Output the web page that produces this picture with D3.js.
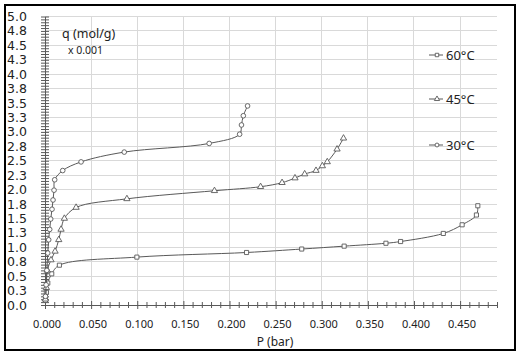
<!DOCTYPE html>
<html>
<head>
<meta charset="utf-8">
<script src="https://cdn.jsdelivr.net/npm/d3@7"></script>
<style>
  body { margin: 0; background: #fff; }
  svg { display: block; }
</style>
</head>
<body>
<svg width="517" height="354"></svg>
<script>
const width = 517;
const height = 354;

// P (bar) and q (mol/g x 0.001)
const p30 = [0.0005, 0.0012, 0.002, 0.003, 0.004, 0.0051, 0.0062, 0.0076, 0.0087, 0.0098, 0.0105, 0.0192, 0.0391, 0.0859, 0.178, 0.211, 0.213, 0.215, 0.2196];
const q30 = [0.15, 0.35, 0.6, 0.9, 1.13, 1.31, 1.49, 1.66, 1.82, 1.99, 2.17, 2.33, 2.48, 2.65, 2.80, 2.96, 3.12, 3.28, 3.45];
const p45 = [0.0005, 0.0015, 0.0025, 0.0065, 0.0109, 0.0149, 0.0174, 0.021, 0.0337, 0.0888, 0.1837, 0.2337, 0.257, 0.271, 0.2815, 0.2938, 0.3007, 0.306, 0.3166, 0.3236];
const q45 = [0.1, 0.3, 0.6, 0.78, 0.93, 1.13, 1.31, 1.50, 1.69, 1.84, 1.98, 2.05, 2.12, 2.20, 2.27, 2.33, 2.41, 2.48, 2.70, 2.89];
const p60 = [0.0005, 0.0015, 0.003, 0.0073, 0.0156, 0.0996, 0.2185, 0.2783, 0.3243, 0.3696, 0.3855, 0.4318, 0.4522, 0.4677, 0.4692];
const q60 = [0.08, 0.22, 0.38, 0.54, 0.69, 0.83, 0.91, 0.97, 1.02, 1.07, 1.10, 1.24, 1.39, 1.56, 1.72];

const seriesNames = ["60°C", "45°C", "30°C"];
const seriesSymbols = [d3.symbolSquare, d3.symbolTriangle, d3.symbolCircle];
const legendY = [55, 99, 145];

const xTicks = d3.range(0, 0.451, 0.05);
const yTicks = d3.range(0, 5.01, 0.25);

const series = [
  { name: seriesNames[0], pts: p60.map((p, i) => [p, q60[i]]) },
  { name: seriesNames[1], pts: p45.map((p, i) => [p, q45[i]]) },
  { name: seriesNames[2], pts: p30.map((p, i) => [p, q30[i]]) }
];

const x = d3.scaleLinear().domain([0, 0.49]).range([45, 497]);
const y = d3.scaleLinear().domain([0, 5]).range([305, 16.5]);

const svg = d3.select("svg");
const ink = "#595959";

svg.append("rect")
    .attr("x", 5).attr("y", 5)
    .attr("width", 510).attr("height", 345)
    .attr("fill", "#fff")
    .attr("stroke", "#000")
    .attr("stroke-width", 2);

const grid = svg.append("g")
    .attr("stroke", "#d9d9d9")
    .attr("stroke-width", 1)
    .attr("shape-rendering", "crispEdges");

grid.selectAll(".h")
  .data(yTicks.slice(1))
  .join("line")
    .attr("x1", x(0)).attr("x2", x(0.49))
    .attr("y1", d => y(d)).attr("y2", d => y(d));

grid.selectAll(".v")
  .data(xTicks.slice(1))
  .join("line")
    .attr("x1", d => x(d)).attr("x2", d => x(d))
    .attr("y1", y(5)).attr("y2", y(0));

const yAxis = svg.append("g")
    .attr("transform", `translate(${x(0)},0)`)
    .call(d3.axisLeft(y).tickValues(d3.range(0, 5.001, 0.05)).tickSize(0).tickFormat(""))
    .call(g => g.select(".domain").attr("stroke", ink));
yAxis.selectAll(".tick line")
    .attr("stroke", ink)
    .attr("x1", -4).attr("x2", 4);

const xAxis = svg.append("g")
    .attr("transform", `translate(0,${y(0)})`)
    .call(d3.axisBottom(x).tickValues(d3.range(0, 0.4901, 0.01)).tickSize(0).tickFormat(""))
    .call(g => g.select(".domain").attr("stroke", ink));
xAxis.selectAll(".tick line")
    .attr("stroke", ink)
    .attr("y1", (d, i) => i % 5 === 0 ? -4 : -3)
    .attr("y2", (d, i) => i % 5 === 0 ? 4 : 3);

svg.append("g")
    .attr("font-family", "DejaVu Sans")
    .attr("font-size", 12.5)
    .attr("fill", "#222")
  .selectAll("text")
  .data(yTicks)
  .join("text")
    .attr("x", 7)
    .attr("y", d => y(d))
    .attr("dy", "0.36em")
    .text(d => d3.format(".1f")(Math.round(d * 10 + 1e-9) / 10));

svg.append("g")
    .attr("font-family", "Noto Sans")
    .attr("font-size", 11)
    .attr("fill", "#222")
    .attr("text-anchor", "middle")
  .selectAll("text")
  .data(xTicks)
  .join("text")
    .attr("x", d => x(d) + 2)
    .attr("y", 324)
    .attr("dy", "0.36em")
    .text(d => d3.format(".3f")(d));

svg.append("text")
    .attr("x", 275).attr("y", 342).attr("dy", "0.36em")
    .attr("text-anchor", "middle")
    .attr("font-family", "Noto Sans").attr("font-size", 12)
    .attr("fill", "#222")
    .text("P (bar)");

svg.append("text")
    .attr("x", 62).attr("y", 33).attr("dy", "0.36em")
    .attr("font-family", "Noto Sans").attr("font-size", 12.5)
    .attr("fill", "#222")
    .text("q (mol/g)");

svg.append("text")
    .attr("x", 68).attr("y", 50).attr("dy", "0.36em")
    .attr("font-family", "Noto Sans").attr("font-size", 10.5)
    .attr("fill", "#222")
    .text("x 0.001");

const line = d3.line()
    .x(d => x(d[0]))
    .y(d => y(d[1]))
    .curve(d3.curveCatmullRom.alpha(0.5));

const sym = d3.symbol().size(17);

series.forEach((s, i) => {
  const g = svg.append("g");
  g.append("path")
      .attr("d", line(s.pts))
      .attr("fill", "none")
      .attr("stroke", ink)
      .attr("stroke-width", 1);
  g.selectAll("path.m")
    .data(s.pts)
    .join("path")
      .attr("class", "m")
      .attr("transform", d => `translate(${x(d[0])},${y(d[1])})`)
      .attr("d", sym.type(seriesSymbols[i])())
      .attr("fill", "#fff")
      .attr("stroke", ink)
      .attr("stroke-width", 0.9);

  const lg = svg.append("g").attr("transform", `translate(437,${legendY[i]})`);
  lg.append("line")
      .attr("x1", -8).attr("x2", 6)
      .attr("stroke", ink);
  lg.append("path")
      .attr("d", d3.symbol().size(12).type(seriesSymbols[i])())
      .attr("fill", "#fff")
      .attr("stroke", ink)
      .attr("stroke-width", 0.9);
  lg.append("text")
      .attr("x", 9).attr("dy", "0.36em")
      .attr("font-family", "Noto Sans").attr("font-size", 13)
      .attr("fill", "#222")
      .text(s.name);
});
</script>
</body>
</html>
